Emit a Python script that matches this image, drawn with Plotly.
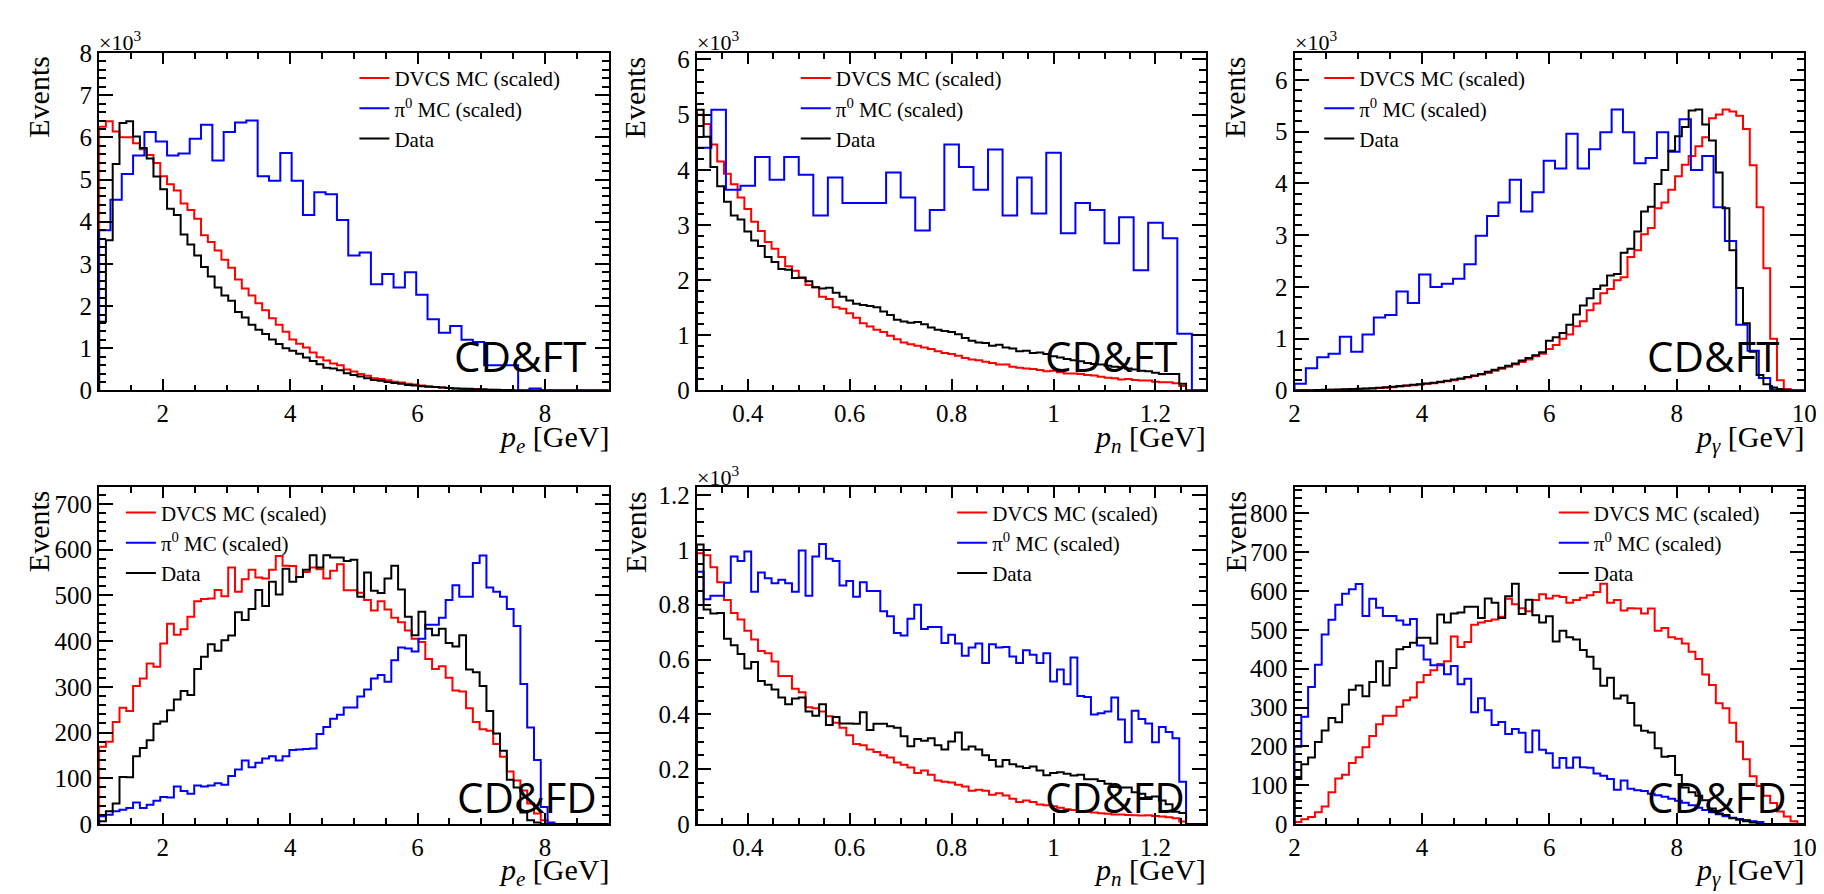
import numpy as np
import plotly.graph_objects as go

W, H = 1824, 894

# ---------------- data ----------------
# x ranges of the three momentum variables [GeV]
PE_RANGE = [1.0, 9.0]
PN_RANGE = [0.3, 1.3]
PG_RANGE = [2.0, 10.0]

# --- CD&FT, electron momentum (x10^3 events) ---
PE_FT_DVCS = [6.25, 6.38, 6.14, 6.0, 6.0, 5.86, 5.72, 5.58, 5.39, 5.08, 4.89, 4.74, 4.43, 4.28, 4.07,
              3.68, 3.52, 3.32, 3.1, 2.91, 2.63, 2.42, 2.25, 2.07, 1.9, 1.71, 1.56, 1.39, 1.21, 1.11,
              1.02, 0.9, 0.79, 0.71, 0.64, 0.6, 0.5, 0.45, 0.39, 0.35, 0.29, 0.27, 0.24, 0.21, 0.19,
              0.16, 0.14, 0.12, 0.1, 0.08, 0.07, 0.06, 0.05, 0.04, 0.03, 0.03, 0.02, 0.02, 0.01, 0.01,
              0, 0, 0, 0, 0, 0, 0, 0, 0, 0, 0, 0, 0, 0, 0]
PE_FT_PI0 = [3.8, 4.52, 5.13, 5.57, 6.13, 5.9, 5.57, 5.62, 5.97, 6.3, 5.45, 6.13, 6.35, 6.4, 5.08,
             4.97, 5.63, 4.97, 4.16, 4.7, 4.65, 4.04, 3.2, 3.27, 2.52, 2.76, 2.44, 2.8, 2.27, 1.69,
             1.37, 1.53, 1.2, 1.15, 0.6, 0.6, 0.6, 0, 0.05, 0, 0, 0, 0, 0, 0]
PE_FT_DATA = [1.63, 3.56, 5.37, 6.34, 6.38, 6.02, 5.75, 5.5, 5.07, 4.77, 4.31, 4.16, 3.7, 3.46, 3.2,
              2.93, 2.7, 2.44, 2.25, 2.13, 1.86, 1.73, 1.56, 1.44, 1.34, 1.21, 1.1, 1.0, 0.94, 0.87,
              0.78, 0.7, 0.62, 0.54, 0.52, 0.48, 0.41, 0.37, 0.33, 0.29, 0.25, 0.23, 0.2, 0.18, 0.16,
              0.13, 0.12, 0.1, 0.09, 0.08, 0.07, 0.06, 0.05, 0.04, 0.04, 0.03, 0.03, 0.02, 0.02, 0.01,
              0.01, 0, 0, 0, 0, 0, 0, 0, 0, 0, 0, 0, 0, 0, 0]

# --- CD&FT, neutron momentum (x10^3 events) ---
PN_FT_DVCS = [5.0, 4.83, 4.46, 4.15, 3.93, 3.74, 3.5, 3.29, 3.06, 2.89, 2.69, 2.57, 2.42, 2.25, 2.17,
              2.04, 1.91, 1.87, 1.7, 1.66, 1.51, 1.48, 1.4, 1.32, 1.22, 1.16, 1.1, 1.06, 0.99, 0.93,
              0.87, 0.84, 0.81, 0.78, 0.75, 0.71, 0.68, 0.66, 0.63, 0.59, 0.56, 0.55, 0.52, 0.5, 0.47,
              0.47, 0.43, 0.41, 0.4, 0.39, 0.37, 0.35, 0.36, 0.33, 0.31, 0.31, 0.3, 0.28, 0.27, 0.25,
              0.23, 0.22, 0.2, 0.21, 0.19, 0.18, 0.18, 0.16, 0.15, 0.15, 0.13, 0.08, 0, 0, 0]
PN_FT_PI0 = [4.4, 5.09, 3.64, 3.71, 4.23, 3.82, 4.23, 3.91, 3.17, 3.86, 3.4, 3.4, 3.4, 3.95, 3.5,
             2.9, 3.27, 4.46, 4.05, 3.64, 4.37, 3.17, 3.86, 3.21, 4.31, 2.85, 3.4, 3.27, 2.67, 3.14,
             2.18, 3.04, 2.76, 1.03, 0]
PN_FT_DATA = [5.09, 4.6, 4.05, 3.7, 3.42, 3.17, 3.1, 2.88, 2.72, 2.62, 2.42, 2.33, 2.2, 2.19, 2.04,
              2.05, 1.98, 1.87, 1.85, 1.86, 1.77, 1.7, 1.63, 1.57, 1.55, 1.53, 1.51, 1.43, 1.37, 1.28,
              1.25, 1.23, 1.24, 1.2, 1.14, 1.1, 1.08, 1.06, 1.02, 0.95, 0.9, 0.87, 0.86, 0.81, 0.83,
              0.78, 0.76, 0.71, 0.72, 0.68, 0.69, 0.66, 0.62, 0.6, 0.57, 0.55, 0.53, 0.5, 0.48, 0.47,
              0.45, 0.43, 0.42, 0.4, 0.38, 0.36, 0.35, 0.32, 0.3, 0.3, 0.3, 0.12, 0, 0, 0]

# --- CD&FT, photon momentum (x10^3 events) ---
PG_FT_DVCS = [0.002, 0.003, 0.005, 0.007, 0.009, 0.012, 0.015, 0.02, 0.025, 0.03, 0.035, 0.04, 0.05,
              0.055, 0.065, 0.075, 0.09, 0.1, 0.115, 0.13, 0.14, 0.16, 0.18, 0.2, 0.22, 0.25, 0.28,
              0.31, 0.34, 0.38, 0.42, 0.46, 0.5, 0.55, 0.6, 0.66, 0.71, 0.8, 0.88, 1.0, 1.08, 1.24,
              1.34, 1.55, 1.68, 1.88, 1.96, 2.13, 2.19, 2.58, 2.71, 3.02, 3.14, 3.52, 3.63, 3.88, 4.14,
              4.36, 4.53, 4.72, 4.89, 5.26, 5.33, 5.43, 5.39, 5.31, 5.05, 4.35, 3.54, 2.36, 1.0, 0.2,
              0.03, 0, 0]
PG_FT_PI0 = [0.13, 0.43, 0.64, 0.71, 1.04, 0.75, 1.08, 1.41, 1.46, 1.91, 1.69, 2.24, 2.0, 2.06, 2.16,
             2.44, 2.99, 3.37, 3.63, 4.07, 3.46, 3.83, 4.44, 4.29, 4.96, 4.29, 4.66, 4.99, 5.43, 4.99,
             4.39, 4.49, 4.99, 4.61, 5.24, 4.26, 4.53, 3.54, 2.89, 1.27, 0.77, 0.24, 0.02, 0, 0]
PG_FT_DATA = [0.003, 0.005, 0.007, 0.009, 0.012, 0.015, 0.018, 0.022, 0.027, 0.032, 0.038, 0.045,
              0.055, 0.062, 0.072, 0.085, 0.095, 0.11, 0.12, 0.135, 0.15, 0.17, 0.19, 0.21, 0.23, 0.26,
              0.29, 0.32, 0.36, 0.4, 0.44, 0.48, 0.52, 0.58, 0.63, 0.68, 0.74, 0.96, 1.03, 1.11, 1.27,
              1.47, 1.64, 1.78, 1.96, 2.03, 2.22, 2.25, 2.66, 2.74, 3.07, 3.46, 3.55, 3.99, 4.26, 4.63,
              4.91, 5.09, 5.41, 5.43, 5.14, 4.83, 4.21, 3.52, 2.71, 1.98, 1.3, 0.75, 0.3, 0.12, 0.06,
              0.03, 0.01, 0, 0]

# --- CD&FD, electron momentum (events) ---
PE_FD_DVCS = [169, 180, 223, 254, 247, 302, 318, 351, 344, 395, 438, 414, 426, 453, 487, 492, 493, 512,
              498, 561, 508, 535, 556, 539, 537, 556, 586, 565, 564, 540, 551, 561, 557, 537, 554, 568,
              511, 511, 506, 490, 467, 487, 469, 451, 441, 423, 405, 398, 361, 339, 345, 320, 292, 290,
              253, 223, 207, 204, 175, 147, 115, 95, 73, 45, 23, 8, 2, 0, 0, 0, 0, 0, 0, 0, 0]
PE_FD_PI0 = [17, 20, 28, 31, 35, 47, 35, 42, 51, 59, 58, 82, 72, 66, 84, 82, 84, 89, 86, 105, 119, 139,
             124, 134, 143, 148, 139, 148, 162, 163, 164, 165, 197, 212, 230, 239, 255, 255, 279, 294,
             318, 326, 311, 358, 386, 384, 377, 405, 436, 436, 451, 490, 522, 497, 497, 571, 587, 517,
             508, 497, 470, 433, 306, 211, 140, 37, 3, 0, 0, 0, 0, 0, 0, 0, 0]
PE_FD_DATA = [6, 28, 45, 103, 102, 148, 166, 183, 219, 224, 249, 272, 291, 282, 339, 366, 393, 379, 402,
              412, 463, 446, 470, 512, 477, 530, 502, 558, 530, 540, 556, 588, 561, 588, 583, 583, 575,
              578, 497, 550, 510, 505, 537, 565, 513, 453, 413, 464, 427, 413, 427, 396, 388, 413, 338,
              332, 302, 247, 198, 160, 97, 80, 25, 8, 3, 0, 0, 0, 0, 0, 0, 0, 0, 0, 0]

# --- CD&FD, neutron momentum (x10^3 events) ---
PN_FD_DVCS = [0.988, 0.98, 0.937, 0.882, 0.817, 0.77, 0.746, 0.705, 0.673, 0.631, 0.623, 0.593, 0.54,
              0.54, 0.493, 0.481, 0.426, 0.422, 0.41, 0.393, 0.369, 0.351, 0.324, 0.292, 0.287, 0.272,
              0.263, 0.251, 0.243, 0.224, 0.216, 0.206, 0.186, 0.195, 0.18, 0.159, 0.154, 0.151, 0.143,
              0.137, 0.121, 0.125, 0.121, 0.107, 0.112, 0.104, 0.092, 0.08, 0.086, 0.08, 0.071, 0.068,
              0.065, 0.059, 0.054, 0.051, 0.047, 0.045, 0.042, 0.039, 0.037, 0.035, 0.035, 0.033, 0.032,
              0.031, 0.032, 0.029, 0.027, 0.025, 0.021, 0.009, 0, 0, 0]
PN_FD_PI0 = [0.92, 0.82, 0.833, 0.833, 0.88, 0.976, 0.959, 0.994, 0.847, 0.917, 0.896, 0.878, 0.891,
             0.878, 0.847, 0.998, 0.833, 0.976, 1.021, 0.968, 0.959, 0.87, 0.886, 0.829, 0.882, 0.85,
             0.85, 0.776, 0.758, 0.697, 0.688, 0.749, 0.8, 0.711, 0.719, 0.719, 0.66, 0.69, 0.658, 0.614,
             0.644, 0.658, 0.587, 0.656, 0.644, 0.646, 0.611, 0.587, 0.634, 0.617, 0.587, 0.623, 0.52,
             0.564, 0.51, 0.607, 0.467, 0.463, 0.399, 0.404, 0.41, 0.461, 0.381, 0.298, 0.413, 0.383,
             0.367, 0.298, 0.354, 0.336, 0.313, 0.154, 0, 0, 0]
PN_FD_DATA = [1.02, 0.782, 0.768, 0.77, 0.676, 0.652, 0.62, 0.567, 0.591, 0.522, 0.508, 0.491, 0.461,
              0.437, 0.458, 0.461, 0.41, 0.395, 0.437, 0.361, 0.39, 0.367, 0.367, 0.366, 0.408, 0.343,
              0.366, 0.366, 0.357, 0.351, 0.32, 0.284, 0.31, 0.304, 0.313, 0.287, 0.272, 0.301, 0.334,
              0.272, 0.283, 0.272, 0.251, 0.233, 0.21, 0.233, 0.218, 0.21, 0.204, 0.21, 0.195, 0.178,
              0.186, 0.189, 0.183, 0.177, 0.18, 0.163, 0.163, 0.157, 0.147, 0.135, 0.133, 0.133, 0.116,
              0.11, 0.098, 0.1, 0.086, 0.072, 0.045, 0.04, 0, 0, 0]

# --- CD&FD, photon momentum (events) ---
PG_FD_DVCS = [5, 12, 18, 30, 45, 82, 117, 127, 157, 172, 198, 227, 257, 279, 279, 302, 319, 326, 365,
              384, 396, 412, 419, 483, 456, 469, 513, 519, 523, 527, 534, 580, 566, 556, 548, 577, 592,
              581, 588, 585, 570, 577, 583, 589, 598, 619, 570, 577, 550, 556, 555, 542, 555, 498, 505,
              481, 477, 465, 444, 425, 385, 358, 311, 298, 261, 212, 167, 123, 98, 73, 54, 32, 19, 7, 0]
PG_FD_PI0 = [199, 276, 353, 410, 488, 526, 565, 593, 605, 618, 536, 580, 557, 536, 536, 524, 513, 528,
             460, 424, 409, 409, 386, 407, 360, 374, 288, 324, 293, 255, 263, 232, 245, 235, 185, 241,
             191, 182, 145, 170, 145, 171, 146, 145, 130, 124, 116, 88, 112, 91, 87, 85, 78, 74, 70, 65,
             60, 55, 48, 42, 36, 30, 25, 20, 16, 13, 10, 7, 5, 0, 0, 0, 0, 0, 0]
PG_FD_DATA = [116, 154, 171, 211, 241, 273, 262, 308, 346, 357, 329, 366, 419, 357, 402, 450, 456, 467,
              480, 480, 465, 540, 519, 542, 545, 560, 560, 531, 581, 570, 531, 587, 619, 541, 578, 538,
              519, 535, 470, 498, 481, 475, 448, 431, 400, 356, 377, 323, 331, 312, 254, 240, 236, 195,
              173, 175, 126, 94, 82, 73, 61, 40, 27, 23, 15, 11, 7, 4, 0, 0, 0, 0, 0, 0, 0]

SERIES_NAMES = ["DVCS MC (scaled)", "\u03c0<sup>0</sup> MC (scaled)", "Data"]
X_TITLES = {"e": "<i>p</i><sub><i>e</i></sub> [GeV]",
            "n": "<i>p</i><sub><i>n</i></sub> [GeV]",
            "g": "<i>p</i><sub><i>\u03b3</i></sub> [GeV]"}

# ---------------- layout / style ----------------
COLS = [(86, 601), (690, 1205), (1294, 1809)]     # plot-frame pixel boxes
ROWS = [(33, 381), (481, 828)]
COLORS = ["#ff0000", "#0000ff", "#000000"]
SERIF = "Liberation Serif"

PANELS = [
    dict(col=0, row=0, var="e", xr=PE_RANGE, yr=[0, 8.0], xd=2, xm=0.5, yd=1, ym=0.2, exp=True,
         det="CD&FT", data=(PE_FT_DVCS, PE_FT_PI0, PE_FT_DATA), leg=349, detx=443),
    dict(col=1, row=0, var="n", xr=PN_RANGE, yr=[0, 6.117], xd=0.2, xm=0.05, yd=1, ym=0.2, exp=True,
         det="CD&FT", data=(PN_FT_DVCS, PN_FT_PI0, PN_FT_DATA), leg=795, detx=1040),
    dict(col=2, row=0, var="g", xr=PG_RANGE, yr=[0, 6.52], xd=2, xm=0.5, yd=1, ym=0.2, exp=True,
         det="CD&FT", data=(PG_FT_DVCS, PG_FT_PI0, PG_FT_DATA), leg=1324, detx=1648),
    dict(col=0, row=1, var="e", xr=PE_RANGE, yr=[0, 736], xd=2, xm=0.5, yd=100, ym=20, exp=False,
         det="CD&FD", data=(PE_FD_DVCS, PE_FD_PI0, PE_FD_DATA), leg=113, detx=446),
    dict(col=1, row=1, var="n", xr=PN_RANGE, yr=[0, 1.2276], xd=0.2, xm=0.05, yd=0.2, ym=0.05, exp=True,
         det="CD&FD", data=(PN_FD_DVCS, PN_FD_PI0, PN_FD_DATA), leg=953, detx=1040),
    dict(col=2, row=1, var="g", xr=PG_RANGE, yr=[0, 867], xd=2, xm=0.5, yd=100, ym=20, exp=False,
         det="CD&FD", data=(PG_FD_DVCS, PG_FD_PI0, PG_FD_DATA), leg=1561, detx=1648),
]
DET_CAP_CENTER = [345, 800]     # vertical centre of the detector label, per row (px)
LEGEND_TOP = [38, 486]          # top of each legend box, per row (px)


def px_x(p):
    return p / W


def px_y(p):
    return 1 - p / H


def hist_xy(lo, hi, vals):
    n = len(vals)
    edges = np.linspace(lo, hi, n + 1)
    x = [edges[0]] + list(edges[:n]) + [edges[n]]
    y = [0] + list(vals) + [0]
    return x, y


fig = go.Figure()
layout = dict(width=W, height=H, margin=dict(l=0, r=0, t=0, b=0), autosize=False,
              paper_bgcolor="white", plot_bgcolor="white", showlegend=True)
annotations = []

for i, p in enumerate(PANELS, start=1):
    sfx = "" if i == 1 else str(i)
    xa, ya, leg = "x" + sfx, "y" + sfx, "legend" + sfx
    x0, x1 = COLS[p["col"]]
    y0, y1 = ROWS[p["row"]]
    lo, hi = p["xr"]
    for name, vals, color in zip(SERIES_NAMES, p["data"], COLORS):
        hx, hy = hist_xy(lo, hi, vals)
        fig.add_trace(go.Scatter(x=hx, y=hy, mode="lines", name=name,
                                 line=dict(color=color, width=2, shape="hv"),
                                 xaxis=xa, yaxis=ya, legend=leg, hoverinfo="skip"))
    common = dict(showline=True, linecolor="black", linewidth=2, mirror="allticks",
                  ticks="inside", tickcolor="black", tickwidth=2, showgrid=False,
                  zeroline=False, fixedrange=True,
                  tickfont=dict(family=SERIF, size=25, color="black"))
    layout["xaxis" + sfx] = dict(common, domain=[px_x(x0), px_x(x1)], range=p["xr"], anchor=ya,
                                 dtick=p["xd"], tick0=0, ticklen=11,
                                 minor=dict(dtick=p["xm"], ticks="inside", ticklen=5.5,
                                            tickwidth=2, tickcolor="black", showgrid=False))
    layout["yaxis" + sfx] = dict(common, domain=[px_y(y1), px_y(y0)], range=p["yr"], anchor=xa,
                                 dtick=p["yd"], tick0=0, ticklen=14,
                                 minor=dict(dtick=p["ym"], ticks="inside", ticklen=7,
                                            tickwidth=2, tickcolor="black", showgrid=False))
    layout[leg] = dict(x=px_x(p["leg"] - 5), y=px_y(LEGEND_TOP[p["row"]]), xanchor="left",
                       yanchor="top", bgcolor="rgba(0,0,0,0)", borderwidth=0, traceorder="normal",
                       font=dict(family=SERIF, size=21, color="black"))
    # y-axis title "Events"
    ev_x = [25, 628, 1234][p["col"]]
    annotations.append(dict(text="Events", x=px_x(ev_x), y=px_y(y0 + 1), xref="paper", yref="paper",
                            xanchor="center", yanchor="top", textangle=-90, showarrow=False,
                            font=dict(family=SERIF, size=30, color="black")))
    # x-axis title
    annotations.append(dict(text=X_TITLES[p["var"]], x=px_x(x1 + 2), y=px_y(y1 + 28), xref="paper",
                            yref="paper", xanchor="right", yanchor="top", showarrow=False,
                            font=dict(family=SERIF, size=30, color="black")))
    # exponent label
    if p["exp"]:
        annotations.append(dict(text="\u00d710<sup>3</sup>", x=px_x(x0 - 2), y=px_y(y0 - 12),
                                xref="paper", yref="paper", xanchor="left", yanchor="middle",
                                showarrow=False, font=dict(family=SERIF, size=22, color="black")))
    # detector label
    annotations.append(dict(text=p["det"].replace("&", "&amp;"), x=px_x(p["detx"]),
                            y=px_y(DET_CAP_CENTER[p["row"]]), xref="paper", yref="paper",
                            xanchor="left", yanchor="middle", showarrow=False,
                            font=dict(family="Open Sans", size=42, color="black")))

layout["annotations"] = annotations
fig.update_layout(**layout)
fig.write_html("out.html")
